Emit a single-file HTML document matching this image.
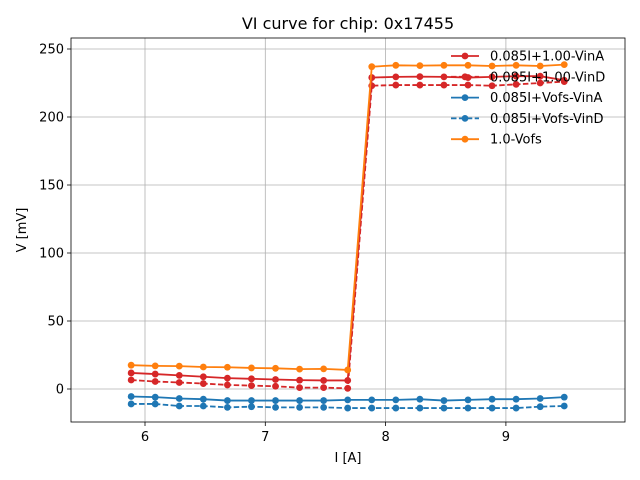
<!DOCTYPE html>
<html><head><meta charset="utf-8"><style>
body{margin:0;background:#fff;}
svg{display:block;font-family:"DejaVu Sans","Liberation Sans",sans-serif;}
</style></head><body>
<svg id="chart" width="640" height="480">
<rect width="640" height="480" fill="#fff"/>
<text x="348" y="29" text-anchor="middle" font-size="16">VI curve for chip: 0x17455</text>
<g id="grid"></g><g id="series"></g><g id="axes"></g><g id="legend"></g>
<text x="348" y="462" text-anchor="middle" font-size="13">I [A]</text>
<text transform="translate(26,230) rotate(-90)" text-anchor="middle" font-size="13">V [mV]</text>
</svg>
<script>
const currents=[5.885,6.085,6.285,6.485,6.685,6.885,7.085,7.285,7.485,7.685,7.885,8.085,8.285,8.485,8.685,8.885,9.085,9.285,9.485];
const redA=[11.8,11,10,9,8,7.5,7,6.5,6.3,6.3,229,229.5,229.7,229.5,229,229.5,230,230,227];
const redD=[6.6,5.5,4.8,4,3,2.5,2,1,1,0.5,223,223.5,223.5,223.5,223.5,223,224,225,226];
const blueA=[-5.5,-6,-7,-7.5,-8.5,-8.5,-8.5,-8.5,-8.5,-8,-8,-8,-7.5,-8.5,-8,-7.5,-7.5,-7,-6];
const blueD=[-11,-11,-12.5,-12.5,-13.5,-13,-13.5,-13.5,-13.5,-14,-14,-14,-14,-14,-14,-14,-14,-13,-12.5];
const orange=[17.5,17,16.8,16.2,16,15.5,15.2,14.6,14.8,14,237,238,237.8,238,238,237.5,238,237.5,238.5];
const xTicks=[6,7,8,9];
const yTicks=[0,50,100,150,200,250];
const seriesNames=["0.085I+1.00-VinA","0.085I+1.00-VinD","0.085I+Vofs-VinA","0.085I+Vofs-VinD","1.0-Vofs"];

const L=71,R=625,T=38,B=422;
const X=v=>145+(v-6)*120.3;
const Y=v=>389-v*1.36;
const NS="http://www.w3.org/2000/svg";
function mk(tag,attrs,parent){const e=document.createElementNS(NS,tag);for(const k in attrs)e.setAttribute(k,attrs[k]);parent.appendChild(e);return e;}
const grid=document.getElementById('grid'),axes=document.getElementById('axes'),ser=document.getElementById('series'),leg=document.getElementById('legend');
xTicks.forEach(t=>{
  const g=mk('line',{x1:X(t),x2:X(t),y1:T,y2:B,stroke:'#b0b0b0','stroke-width':0.8},grid);
  
  
  mk('line',{x1:X(t),x2:X(t),y1:B,y2:B+4,stroke:'#000','stroke-width':0.8},axes);
  const tx=mk('text',{x:X(t),y:B+19,'text-anchor':'middle','font-size':13},axes);tx.textContent=t;
  
  
});
yTicks.forEach(t=>{
  const g=mk('line',{x1:L,x2:R,y1:Y(t),y2:Y(t),stroke:'#b0b0b0','stroke-width':0.8},grid);
  
  
  mk('line',{x1:L-4,x2:L,y1:Y(t),y2:Y(t),stroke:'#000','stroke-width':0.8},axes);
  const tx=mk('text',{x:L-7,y:Y(t)+4.5,'text-anchor':'end','font-size':13},axes);tx.textContent=t;
  
  
});
const frame=mk('rect',{x:L,y:T,width:R-L,height:B-T,fill:'none',stroke:'#000','stroke-width':0.8},axes);


const defs=[[redA,'#d62728',''],[redD,'#d62728','5.5,2.4'],[blueA,'#1f77b4',''],[blueD,'#1f77b4','5.5,2.4'],[orange,'#ff7f0e','']];
defs.forEach((d,i)=>{
  const g=mk('g',{},ser);
  
  
  const pts=currents.map((c,j)=>X(c)+','+Y(d[0][j])).join(' ');
  mk('polyline',{points:pts,fill:'none',stroke:d[1],'stroke-width':1.8,'stroke-dasharray':d[2]},g);
  currents.forEach((c,j)=>{const p=mk('circle',{cx:X(c),cy:Y(d[0][j]),r:3.4,fill:d[1]},g);
    
    });
  const ly=56+i*20.8;
  const le=mk('g',{},leg);
  
  
  mk('line',{x1:451,x2:479,y1:ly,y2:ly,stroke:d[1],'stroke-width':1.8,'stroke-dasharray':d[2]},le);
  mk('circle',{cx:465,cy:ly,r:3.4,fill:d[1]},le);
  const t=mk('text',{x:490,y:ly+4.5,'font-size':13},le);t.textContent=seriesNames[i];
});
</script>
</body></html>
